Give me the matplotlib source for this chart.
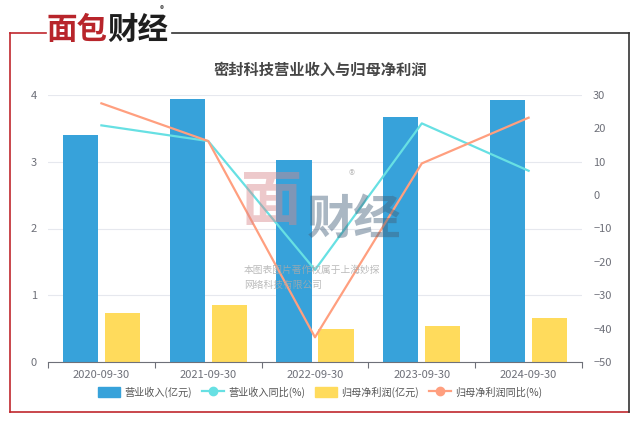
import matplotlib
matplotlib.use("Agg")
from matplotlib import pyplot as plt
from matplotlib.lines import Line2D
from matplotlib.patches import Rectangle
import numpy as np

plt.rcParams['font.family'] = ['Noto Sans CJK SC', 'DejaVu Sans']

dates = ["2020-09-30", "2021-09-30", "2022-09-30", "2023-09-30", "2024-09-30"]
revenue = [3.40, 3.94, 3.02, 3.67, 3.93]          # 营业收入(亿元)
revenue_yoy = [20.9, 16.2, -22.4, 21.5, 7.3]      # 营业收入同比(%)
profit = [0.74, 0.86, 0.49, 0.535, 0.655]         # 归母净利润(亿元)
profit_yoy = [27.5, 16.2, -42.6, 9.5, 23.2]       # 归母净利润同比(%)

c_blue = '#37A2DA'
c_cyan = '#67E0E3'
c_yellow = '#FFDB5C'
c_orange = '#FF9F7F'
c_text = '#6E7079'

W, H = 640, 424
fig = plt.figure(figsize=(W / 100, H / 100), dpi=100)

def fx(px):
    return px / W

def fy(py):
    return 1 - py / H

# frame
red = '#C0282E'
dark = '#333333'
fig.add_artist(Line2D([fx(10), fx(10)], [fy(33), fy(412)], color=red, lw=1.2))
fig.add_artist(Line2D([fx(10), fx(46)], [fy(33), fy(33)], color=red, lw=1.2))
fig.add_artist(Line2D([fx(10), fx(629)], [fy(412), fy(412)], color=red, lw=1.2))
fig.add_artist(Line2D([fx(172), fx(629)], [fy(33), fy(33)], color=dark, lw=1.2))
fig.add_artist(Line2D([fx(629), fx(629)], [fy(33), fy(412)], color=dark, lw=1.2))

# logo
fig.text(fx(47), fy(30), "面包", color='#B8252B', fontsize=22, fontweight='bold',
         va='center', ha='left')
fig.text(fx(107), fy(30), "财经", color='#1E1E1E', fontsize=22, fontweight='bold',
         va='center', ha='left')
fig.text(fx(162), fy(10), "®", color='#333333', fontsize=6, va='center', ha='center')

# title
fig.text(0.5, fy(70), "密封科技营业收入与归母净利润", ha='center', va='center',
         fontsize=11, fontweight='bold', color='#464646')

ax = fig.add_axes([fx(48), fy(362), fx(582) - fx(48), fy(95) - fy(362)])
ax2 = ax.twinx()

x = np.arange(len(dates))
bw = 0.33
off = 0.197
ax.bar(x - off, revenue, bw, color=c_blue, zorder=2, label="营业收入(亿元)")
ax.bar(x + off, profit, bw, color=c_yellow, zorder=2, label="归母净利润(亿元)")
ax.set_ylim(0, 4)
ax.set_xlim(-0.5, len(dates) - 0.5)
ax.set_yticks([0, 1, 2, 3, 4])
ax.grid(axis='y', color='#E6E8EE', lw=0.8, zorder=0)
ax.set_axisbelow(True)

ax2.plot(x, revenue_yoy, color=c_cyan, lw=1.6, zorder=3)
ax2.plot(x, profit_yoy, color=c_orange, lw=1.6, zorder=3)
ax2.set_ylim(-50, 30)
ax2.set_yticks(range(-50, 31, 10))

ax.set_xticks(x)
ax.set_xticklabels(dates)
ax.set_xticks(np.arange(-0.5, len(dates), 1.0), minor=True)
ax.tick_params(axis='x', which='major', length=0, pad=6, labelsize=8, labelcolor=c_text)
ax.tick_params(axis='x', which='minor', length=4, color='#6E7079', width=0.8)
ax.tick_params(axis='y', length=0, labelsize=8, labelcolor=c_text, pad=8)
ax2.tick_params(axis='y', length=0, labelsize=8, labelcolor=c_text, pad=8)

for a in (ax, ax2):
    for s in ('top', 'left', 'right', 'bottom'):
        a.spines[s].set_visible(False)
ax.spines['bottom'].set_visible(True)
ax.spines['bottom'].set_color('#6E7079')
ax.spines['bottom'].set_linewidth(0.8)

# watermark
fig.text(fx(272), fy(202), "面", fontsize=44, color='#D9888C', alpha=0.45,
         ha='center', va='center', fontweight='bold')
fig.text(fx(354), fy(220), "财经", fontsize=34, color='#44607A', alpha=0.45,
         ha='center', va='center', fontweight='bold')
fig.text(fx(352), fy(176), "®", fontsize=9, color='#999999', alpha=0.6, ha='center', va='center')
fig.text(fx(244), fy(270), "本图表图片著作权属于上海妙探", fontsize=7, color='#AAAAAA',
         alpha=0.8, ha='left', va='center')
fig.text(fx(244), fy(285), "网络科技有限公司", fontsize=7, color='#AAAAAA',
         alpha=0.8, ha='left', va='center')

# legend
handles = [
    Rectangle((0, 0), 1, 1, color=c_blue),
    Line2D([], [], color=c_cyan, lw=1.6, marker='o', markersize=6),
    Rectangle((0, 0), 1, 1, color=c_yellow),
    Line2D([], [], color=c_orange, lw=1.6, marker='o', markersize=6),
]
labels = ["营业收入(亿元)", "营业收入同比(%)", "归母净利润(亿元)", "归母净利润同比(%)"]
fig.legend(handles, labels, loc='center', bbox_to_anchor=(fx(320), fy(392)), ncol=4,
           frameon=False, fontsize=7.3, labelcolor='#555555', handlelength=2.2,
           handleheight=1.1, columnspacing=1.0, handletextpad=0.4)

fig.savefig("out.png", dpi=100)
